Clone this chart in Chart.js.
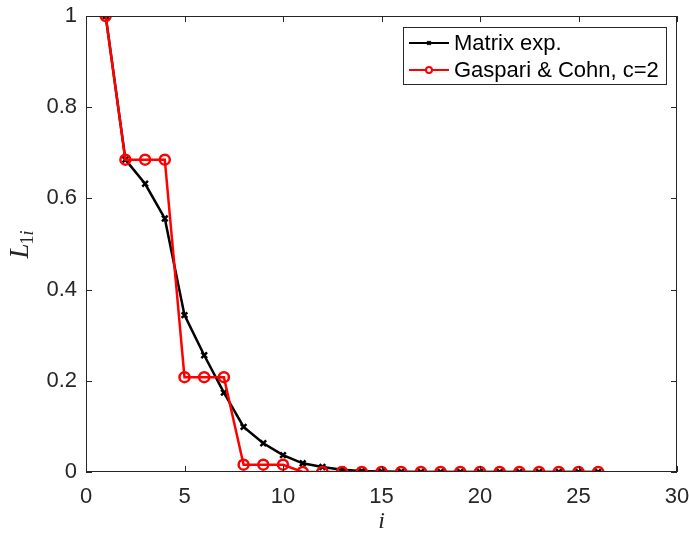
<!DOCTYPE html>
<html>
<head>
<meta charset="utf-8">
<script src="https://cdn.jsdelivr.net/npm/chart.js@4.4.0/dist/chart.umd.min.js"></script>
<style>
  html, body { margin: 0; padding: 0; background: #fff; }
  #wrap { width: 689px; height: 533px; }
</style>
</head>
<body>
<div id="wrap"><canvas id="myChart" width="689" height="533"></canvas></div>
<script>
const indices = [1,2,3,4,5,6,7,8,9,10,11,12,13,14,15,16,17,18,19,20,21,22,23,24,25,26];
const matrixExp = [1, 0.685, 0.632, 0.556, 0.344, 0.256, 0.174, 0.099, 0.063, 0.037, 0.019, 0.011, 0.005, 0.002, 0.001, 0.0005, 0, 0, 0, 0, 0, 0, 0, 0, 0, 0];
const gaspariCohn = [1, 0.685, 0.685, 0.685, 0.208, 0.208, 0.208, 0.016, 0.016, 0.016, 0, 0, 0, 0, 0, 0, 0, 0, 0, 0, 0, 0, 0, 0, 0, 0];
const xTicks = [0, 5, 10, 15, 20, 25, 30];
const yTicks = [0, 0.2, 0.4, 0.6, 0.8, 1];
const legendLabels = ['Matrix exp.', 'Gaspari & Cohn, c=2'];

const toXY = (ys) => indices.map((x, i) => ({ x: x, y: ys[i] }));

// MATLAB-like frame: box, inward ticks, legend, axis labels
const matlabFrame = {
  id: 'matlabFrame',
  afterDraw(chart) {
    const ctx = chart.ctx;
    const a = chart.chartArea;
    const xs = chart.scales.x;
    const ys = chart.scales.y;
    ctx.save();
    ctx.strokeStyle = '#262626';
    ctx.lineWidth = 1;
    ctx.strokeRect(a.left + 0.5, a.top + 0.5, a.right - a.left - 1, a.bottom - a.top - 1);
    const tl = 6;
    ctx.beginPath();
    xTicks.forEach(v => {
      const px = Math.round(xs.getPixelForValue(v)) + 0.5;
      ctx.moveTo(px, a.bottom); ctx.lineTo(px, a.bottom - tl);
      ctx.moveTo(px, a.top); ctx.lineTo(px, a.top + tl);
    });
    yTicks.forEach(v => {
      const py = Math.round(ys.getPixelForValue(v)) + 0.5;
      ctx.moveTo(a.left, py); ctx.lineTo(a.left + tl, py);
      ctx.moveTo(a.right, py); ctx.lineTo(a.right - tl, py);
    });
    ctx.stroke();

    // legend
    const lx = 403, ly = 27, lw = 263, lh = 57;
    ctx.fillStyle = '#fff';
    ctx.fillRect(lx, ly, lw, lh);
    ctx.strokeStyle = '#262626';
    ctx.strokeRect(lx + 0.5, ly + 0.5, lw, lh);
    const rows = [43, 70];
    chart.data.datasets.forEach((ds, i) => {
      const y = rows[i];
      ctx.strokeStyle = ds.borderColor;
      ctx.lineWidth = 2;
      ctx.beginPath();
      ctx.moveTo(409, y); ctx.lineTo(449, y);
      ctx.stroke();
      ctx.fillStyle = '#fff';
      Chart.helpers.drawPoint(ctx, {
        pointStyle: ds.pointStyle, radius: i === 0 ? 2.5 : 3, borderWidth: 1.5, rotation: 0
      }, 429, y);
      ctx.fillStyle = '#000';
      ctx.font = '22px "Liberation Sans", Arial, sans-serif';
      ctx.textBaseline = 'middle';
      ctx.textAlign = 'left';
      ctx.fillText(legendLabels[i], 454, y + 1);
    });

    // x axis title
    ctx.fillStyle = '#262626';
    ctx.font = 'italic 24px "Liberation Serif", "DejaVu Serif", serif';
    ctx.textAlign = 'center';
    ctx.textBaseline = 'middle';
    ctx.fillText('i', (a.left + a.right) / 2, 522);

    // y axis title L_{1i}
    ctx.translate(28, (a.top + a.bottom) / 2);
    ctx.rotate(-Math.PI / 2);
    ctx.textAlign = 'left';
    ctx.textBaseline = 'alphabetic';
    ctx.font = 'italic 27px "Liberation Serif", serif';
    const wL = ctx.measureText('L').width;
    ctx.font = '18px "Liberation Serif", serif';
    const w1 = ctx.measureText('1').width;
    ctx.font = 'italic 18px "Liberation Serif", serif';
    const wi = ctx.measureText('i').width;
    let x0 = -(wL + w1 + wi) / 2;
    ctx.font = 'italic 27px "Liberation Serif", serif';
    ctx.fillText('L', x0, 0);
    ctx.font = '18px "Liberation Serif", serif';
    ctx.fillText('1', x0 + wL - 1, 5);
    ctx.font = 'italic 18px "Liberation Serif", serif';
    ctx.fillText('i', x0 + wL - 1 + w1, 5);
    ctx.restore();
  }
};

const config = {
  type: 'line',
  data: {
    datasets: [
      {
        label: legendLabels[0],
        data: toXY(matrixExp),
        borderColor: '#000000',
        backgroundColor: '#000000',
        borderWidth: 2.5,
        pointStyle: 'crossRot',
        pointRadius: 4,
        pointBorderWidth: 2.5,
        order: 1
      },
      {
        label: legendLabels[1],
        data: toXY(gaspariCohn),
        borderColor: '#ff0000',
        backgroundColor: 'rgba(0,0,0,0)',
        borderWidth: 2.5,
        pointStyle: 'circle',
        pointRadius: 5,
        pointBorderWidth: 2.5,
        order: 0
      }
    ]
  },
  options: {
    responsive: false,
    animation: false,
    layout: { padding: { left: 0, top: 16, right: 12, bottom: 0 } },
    plugins: { legend: { display: false }, tooltip: { enabled: false } },
    elements: { line: { tension: 0 } },
    scales: {
      x: {
        type: 'linear',
        min: 0, max: 30,
        afterFit: (s) => { s.height = 61; s.paddingLeft = 0; s.paddingRight = 0; },
        afterBuildTicks: (s) => { s.ticks = xTicks.map(v => ({ value: v })); },
        grid: { display: false, drawTicks: false },
        border: { display: false },
        ticks: {
          padding: 12,
          color: '#262626',
          font: { family: '"Liberation Sans", Arial, sans-serif', size: 22 }
        }
      },
      y: {
        type: 'linear',
        min: 0, max: 1,
        afterFit: (s) => { s.width = 86; s.paddingTop = 0; s.paddingBottom = 0; },
        afterBuildTicks: (s) => { s.ticks = yTicks.map(v => ({ value: v })); },
        grid: { display: false, drawTicks: false },
        border: { display: false },
        ticks: {
          padding: 9,
          color: '#262626',
          font: { family: '"Liberation Sans", Arial, sans-serif', size: 22 },
          callback: (v) => String(Math.round(v * 10) / 10)
        }
      }
    }
  },
  plugins: [matlabFrame]
};

const myChart = new Chart(document.getElementById('myChart'), config);
</script>
</body>
</html>
